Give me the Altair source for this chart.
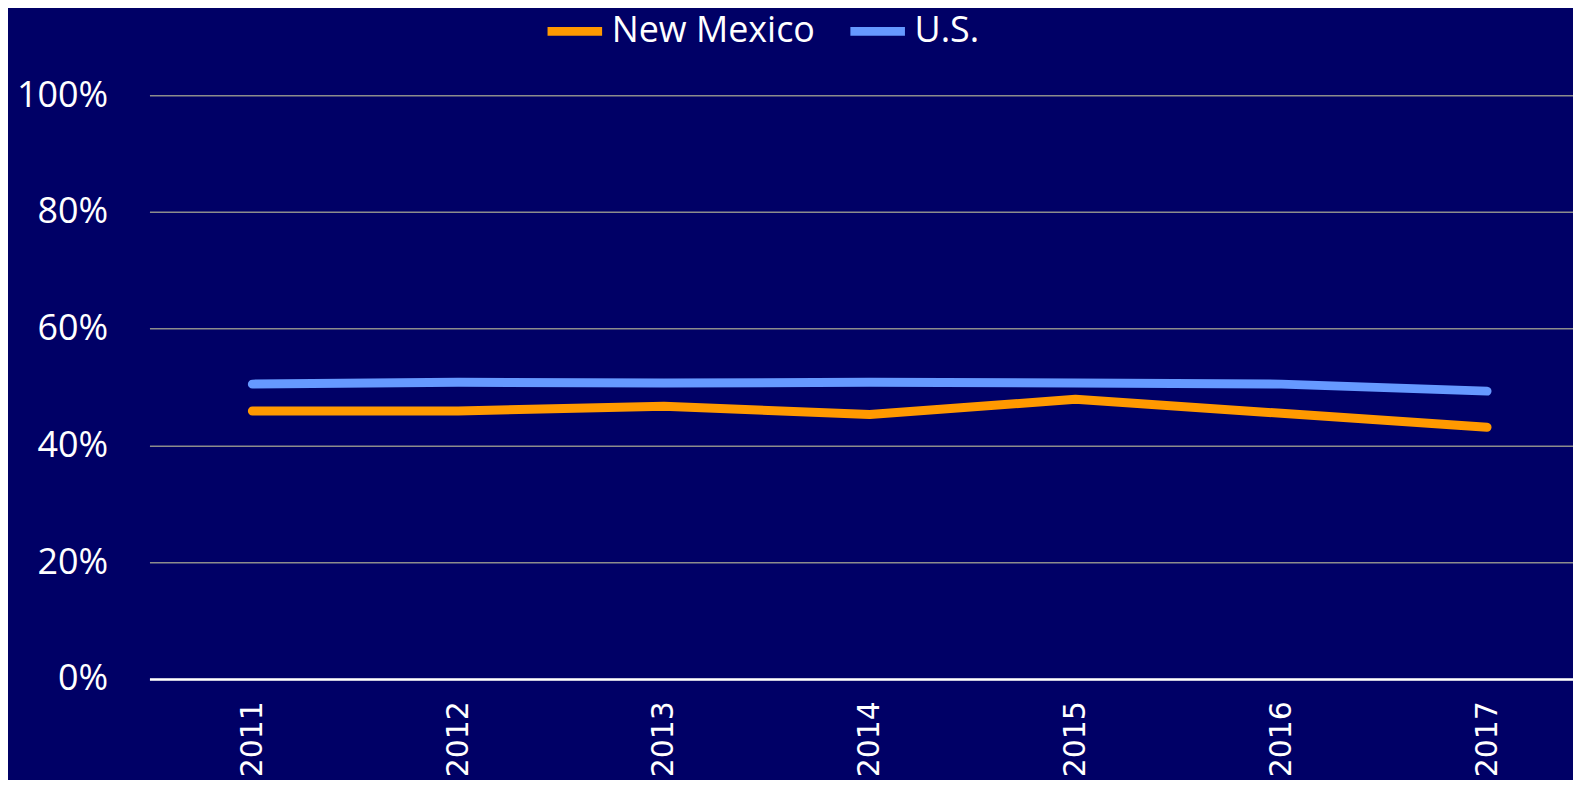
import altair as alt
import pandas as pd

years = ["2011", "2012", "2013", "2014", "2015", "2016", "2017"]
new_mexico = [0.459, 0.459, 0.467, 0.453, 0.479, 0.455, 0.431]
us = [0.505, 0.508, 0.507, 0.508, 0.507, 0.505, 0.493]
series_names = ["New Mexico", "U.S."]
series_colors = ["#FF9900", "#6699FF"]
y_ticks = [0, 0.2, 0.4, 0.6, 0.8, 1.0]

rows = []
for name, vals in zip(series_names, [new_mexico, us]):
    for yr, v in zip(years, vals):
        rows.append({"year": yr, "value": v, "series": name})
df = pd.DataFrame(rows)

FONT = "Open Sans"

chart = alt.Chart(df).mark_line(strokeWidth=9, strokeCap="round", strokeJoin="round").encode(
    x=alt.X("year:O", sort=years, title=None,
            axis=alt.Axis(labelAngle=-90, labelFontSize=30, labelColor="white",
                          labelFont="DejaVu Sans",
                          labelPadding=22, ticks=False, domainColor="white", domainWidth=2.5,
                          grid=False)),
    y=alt.Y("value:Q", title=None, scale=alt.Scale(domain=[0, 1], nice=False),
            axis=alt.Axis(values=y_ticks, format=".0%", labelFontSize=36, labelColor="white",
                          labelFont=FONT, labelPadding=42, ticks=False, domain=False,
                          gridColor="#8c8c8c", gridWidth=1.5)),
    color=alt.Color("series:N", sort=series_names,
                    scale=alt.Scale(domain=series_names, range=series_colors),
                    legend=alt.Legend(title=None, orient="none", direction="horizontal",
                                      legendX=395, legendY=-96, symbolType="stroke",
                                      symbolStrokeWidth=9, symbolSize=3000, labelFontSize=36,
                                      labelColor="white", labelFont=FONT, labelOffset=5,
                                      labelLimit=0, columnPadding=17, padding=0)),
).properties(
    width=1446, height=586, background="#000066",
    autosize=alt.AutoSizeParams(type="none"),
    padding={"left": 142, "top": 86, "right": -17, "bottom": 100}
).configure_view(stroke=None)

chart.save("out.html", embed_options={"renderer": "svg", "actions": False})
